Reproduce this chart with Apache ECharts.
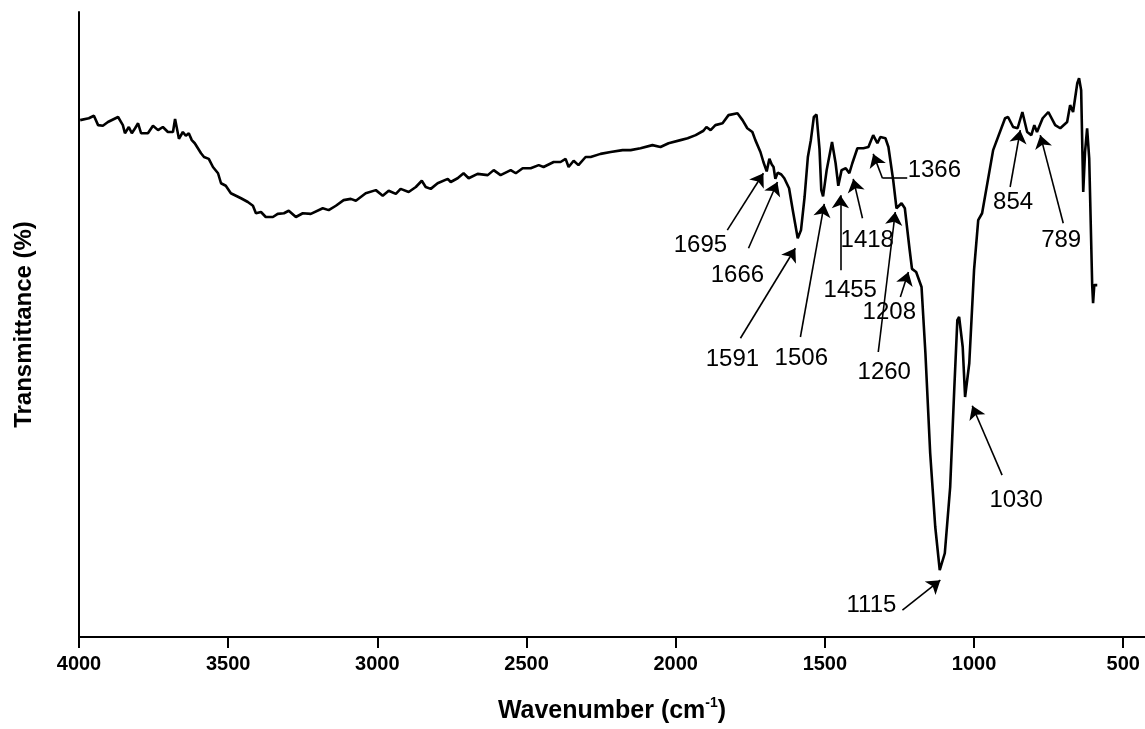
<!DOCTYPE html>
<html>
<head>
<meta charset="utf-8">
<script src="https://cdn.jsdelivr.net/npm/echarts@6/dist/echarts.min.js"></script>
<style>
  html, body { margin: 0; padding: 0; background: #fff; }
  #chart { width: 1145px; height: 729px; }
</style>
</head>
<body>
<div id="chart"></div>
<script>
// spectrum (cm-1, transmittance in arbitrary %)
const wavenumber = [
  3996, 3967, 3950, 3936, 3920, 3903, 3869, 3853, 3846, 3833, 3823, 3812, 3802, 3792, 3769, 3752,
  3735, 3719, 3702, 3685, 3678, 3665, 3652, 3642, 3632, 3622, 3612, 3591, 3581, 3565, 3551, 3534,
  3524, 3508, 3491, 3474, 3457, 3434, 3417, 3407, 3390, 3374, 3350, 3334, 3313, 3297, 3273, 3250,
  3223, 3183, 3163, 3139, 3113, 3089, 3072, 3039, 3005, 2982, 2962, 2938, 2922, 2895, 2871, 2851,
  2838, 2821, 2798, 2764, 2754, 2731, 2711, 2694, 2664, 2630, 2610, 2587, 2553, 2536, 2513, 2486,
  2459, 2443, 2409, 2386, 2369, 2359, 2342, 2326, 2302, 2285, 2252, 2218, 2178, 2151, 2118, 2078,
  2051, 2024, 1984, 1960, 1933, 1907, 1897, 1883, 1867, 1843, 1823, 1793, 1776, 1760, 1743, 1733,
  1716, 1706, 1700, 1695, 1686, 1678, 1672, 1666, 1658, 1646, 1636, 1620, 1608, 1591, 1580, 1568,
  1557, 1547, 1537, 1528, 1518, 1512, 1506, 1494, 1476, 1464, 1455, 1444, 1430, 1418, 1408, 1391,
  1371, 1354, 1338, 1324, 1314, 1297, 1287, 1271, 1260, 1243, 1232, 1216, 1208, 1194, 1176, 1163,
  1147, 1130, 1115, 1098, 1080, 1066, 1056, 1050, 1038, 1030, 1016, 1000, 986, 973, 936, 896,
  886, 869, 854, 838, 822, 808, 798, 789, 770, 751, 728, 711, 688, 678, 668, 654,
  648, 641, 634, 628, 621, 614, 604, 601, 597, 587
];
const transmittance = [
  82.7, 83.0, 83.4, 81.9, 81.8, 82.4, 83.2, 81.9, 80.6, 81.6, 80.6, 81.4, 82.2, 80.6, 80.6, 81.8,
  81.1, 81.6, 80.8, 80.8, 82.9, 79.7, 80.8, 80.2, 80.6, 79.5, 79.0, 77.4, 76.8, 76.5, 75.2, 74.2,
  72.6, 72.2, 71.0, 70.6, 70.2, 69.6, 69.0, 67.8, 68.0, 67.2, 67.2, 67.7, 67.8, 68.2, 67.2, 67.8,
  67.7, 68.6, 68.3, 69.0, 69.9, 70.1, 69.8, 71.0, 71.5, 70.6, 71.4, 70.9, 71.7, 71.2, 72.0, 73.0,
  72.0, 71.7, 72.6, 73.3, 72.8, 73.4, 74.2, 73.4, 74.1, 73.9, 74.7, 73.9, 74.7, 74.2, 75.0, 75.0,
  75.5, 75.2, 76.0, 76.0, 76.5, 75.2, 76.2, 75.5, 76.8, 76.8, 77.3, 77.6, 77.9, 77.9, 78.2, 78.7,
  78.4, 79.0, 79.5, 79.8, 80.3, 81.0, 81.6, 81.1, 81.9, 82.2, 83.5, 83.8, 82.7, 81.4, 80.8, 79.5,
  77.6, 76.0, 75.7, 74.5, 76.5, 75.6, 75.2, 73.3, 74.3, 74.0, 73.4, 71.8, 68.4, 63.8, 65.1, 70.4,
  76.8, 79.5, 83.2, 83.6, 78.1, 71.5, 70.5, 74.7, 79.2, 75.8, 72.2, 74.7, 75.0, 74.2, 75.8, 78.2,
  78.2, 78.4, 80.3, 79.0, 80.0, 79.8, 78.4, 73.1, 68.6, 69.4, 68.6, 62.0, 58.9, 58.4, 56.0, 45.4,
  29.4, 17.6, 10.7, 13.4, 24.0, 40.0, 50.7, 51.2, 46.4, 38.4, 43.8, 58.7, 66.7, 67.8, 77.9, 83.0,
  83.2, 81.6, 81.4, 84.0, 80.8, 80.3, 81.9, 80.8, 83.0, 84.0, 81.9, 81.4, 82.4, 85.1, 84.0, 88.6,
  89.4, 87.5, 71.2, 77.6, 81.4, 76.6, 56.3, 53.4, 56.3, 56.3
];
const tickValues = [500, 1000, 1500, 2000, 2500, 3000, 3500, 4000];

// peak labels: text, label anchor, arrow tail, arrow tip (data coords)
const peakNames = ['1695', '1666', '1591', '1506', '1455', '1418', '1366', '1260', '1208', '854', '789', '1030', '1115'];
const labelAt = [[1917, 62.7], [1793, 57.9], [1810, 44.5], [1579, 44.6], [1415, 55.5], [1358, 63.5], [1133, 74.6], [1301, 42.4], [1284, 52.0], [869, 69.6], [708, 63.4], [859, 21.8], [1344, 5.0]];
const arrowTail = [[1827, 65.1], [1756, 62.2], [1783, 47.8], [1582, 48.0], [1448, 58.7], [1374, 67.0], [1307, 73.4], [1321, 45.6], [1247, 54.4], [879, 72.0], [701, 66.2], [906, 25.9], [1240, 4.3]];
const arrowTip = [[1706, 74.2], [1659, 72.8], [1599, 62.2], [1502, 69.3], [1448, 70.7], [1405, 73.3], [1338, 77.3], [1264, 68.0], [1220, 58.4], [845, 81.1], [778, 80.3], [1006, 37.0], [1113, 9.1]];
// the 1366 leader has a horizontal run before the bend
const leader1366 = [[1224, 73.4], [1307, 73.4]];

const chart = echarts.init(document.getElementById('chart'));

const arrows = peakNames.map((n, i) => [{ coord: arrowTail[i] }, { coord: arrowTip[i] }]);
arrows.push([{ coord: leader1366[0], symbol: 'none' }, { coord: leader1366[1], symbol: 'none' }]);

const font = '"Liberation Sans", Arial, sans-serif';

const option = {
  animation: false,
  grid: { left: 79, right: 0, top: 12, bottom: 92 },
  xAxis: {
    type: 'value',
    inverse: true,
    min: 427,
    max: 4000,
    name: '{t|Wavenumber (cm}{s|-1}{t|)}',
    nameLocation: 'middle',
    nameGap: 59,
    nameTextStyle: {
      rich: {
        t: { fontFamily: font, fontSize: 25, fontWeight: 'bold', color: '#000', lineHeight: 30 },
        s: { fontFamily: font, fontSize: 14, fontWeight: 'bold', color: '#000', verticalAlign: 'top', lineHeight: 13 }
      }
    },
    axisLine: { show: true, lineStyle: { color: '#000', width: 2 } },
    axisTick: { show: true, length: 11, lineStyle: { color: '#000', width: 2 }, customValues: tickValues },
    axisLabel: {
      customValues: tickValues,
      formatter: v => String(v),
      fontFamily: font, fontSize: 20, fontWeight: 'bold', color: '#000', margin: 17
    },
    splitLine: { show: false }
  },
  yAxis: {
    type: 'value',
    min: 0,
    max: 100,
    name: 'Transmittance (%)',
    nameLocation: 'middle',
    nameRotate: 90,
    nameGap: 43,
    nameTextStyle: { fontFamily: font, fontSize: 24, fontWeight: 'bold', color: '#000' },
    axisLine: { show: true, lineStyle: { color: '#000', width: 2 } },
    axisTick: { show: false },
    axisLabel: { show: false },
    splitLine: { show: false }
  },
  series: [
    {
      type: 'line',
      data: wavenumber.map((w, i) => [w, transmittance[i]]),
      showSymbol: false,
      symbol: 'none',
      lineStyle: { color: '#000', width: 2.6 },
      silent: true,
      markLine: {
        silent: true,
        symbol: ['none', 'arrow'],
        symbolSize: 13,
        label: { show: false },
        lineStyle: { color: '#000', width: 1.6, type: 'solid', opacity: 1 },
        emphasis: { disabled: true },
        data: arrows
      }
    },
    {
      type: 'scatter',
      silent: true,
      symbolSize: 0,
      itemStyle: { opacity: 1 },
      data: peakNames.map((n, i) => ({ name: n, value: labelAt[i] })),
      label: {
        show: true,
        position: 'inside',
        formatter: '{b}',
        fontFamily: font,
        fontSize: 24,
        color: '#000',
        opacity: 1,
        textBorderWidth: 0
      }
    }
  ]
};
chart.setOption(option);
</script>
</body>
</html>
